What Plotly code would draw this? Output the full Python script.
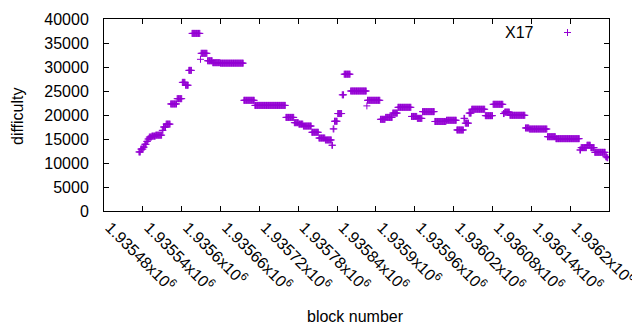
import plotly.graph_objects as go

# Run-length encoded data: consecutive blocks sharing one difficulty
run_start = [1935534, 1935537, 1935541, 1935543, 1935546, 1935548, 1935550, 1935554, 1935560, 1935570,
             1935572, 1935576, 1935583, 1935593, 1935601, 1935606, 1935611, 1935616, 1935629, 1935630,
             1935640, 1935648, 1935660, 1935696, 1935713, 1935761, 1935774, 1935781, 1935788, 1935801,
             1935812, 1935822, 1935832, 1935834, 1935836, 1935841, 1935848, 1935851, 1935861, 1935886,
             1935887, 1935907, 1935915, 1935926, 1935934, 1935955, 1935964, 1935972, 1935991, 1936009,
             1936025, 1936036, 1936038, 1936044, 1936048, 1936069, 1936081, 1936097, 1936099, 1936107,
             1936131, 1936137, 1936165, 1936178, 1936215, 1936217, 1936226, 1936232, 1936238, 1936255,
             1936257]
run_end = [1935536, 1935540, 1935542, 1935545, 1935547, 1935549, 1935553, 1935559, 1935569, 1935571,
           1935575, 1935582, 1935592, 1935600, 1935605, 1935610, 1935615, 1935628, 1935629, 1935639,
           1935647, 1935659, 1935695, 1935712, 1935760, 1935773, 1935780, 1935787, 1935800, 1935811,
           1935821, 1935831, 1935833, 1935835, 1935840, 1935847, 1935850, 1935860, 1935885, 1935886,
           1935906, 1935914, 1935925, 1935933, 1935954, 1935963, 1935971, 1935990, 1936008, 1936024,
           1936035, 1936037, 1936043, 1936047, 1936068, 1936080, 1936096, 1936098, 1936106, 1936130,
           1936136, 1936164, 1936177, 1936214, 1936216, 1936225, 1936231, 1936237, 1936254, 1936256,
           1936258]
run_diff = [12300, 12900, 13300, 13900, 14500, 15000, 15400, 15600, 15800, 16800,
            17500, 18100, 22300, 23400, 26800, 26200, 29300, 37000, 31600, 32850,
            31300, 30900, 30800, 23060, 22000, 19500, 18400, 18100, 17700, 16400,
            15200, 14800, 13700, 17100, 18700, 20300, 24200, 28500, 25000, 21900,
            23060, 19100, 19500, 20400, 21600, 19700, 19300, 20700, 18650, 18900,
            16880, 19300, 18300, 20400, 21200, 19860, 22230, 20300, 20600, 19940,
            17300, 17080, 15480, 15070, 12710, 13200, 13700, 13200, 12220, 11300,
            11100]

x_tickvals = [1935480, 1935540, 1935600, 1935660, 1935720, 1935780, 1935840,
              1935900, 1935960, 1936020, 1936080, 1936140, 1936200, 1936260]
x_ticktext = ["1.93548", "1.93554", "1.9356", "1.93566", "1.93572", "1.93578", "1.93584",
              "1.9359", "1.93596", "1.93602", "1.93608", "1.93614", "1.9362", "1.93626"]
y_tickvals = [0, 5000, 10000, 15000, 20000, 25000, 30000, 35000, 40000]
series_name = "X17"

blocks, diffs = [], []
for s, e, d in zip(run_start, run_end, run_diff):
    for b in range(s, e + 1):
        blocks.append(b)
        diffs.append(d)

COLOR = "#9400D3"
FONT = "Liberation Sans, Arial, sans-serif"

# the page body has an 8px margin, so the figure is drawn at (8, 8) in the window
OFF = 8
W, H = 640 - OFF, 330 - OFF
L, T = 104 - OFF, 19 - OFF
R = W - (609 - OFF)
B = H - (211 - OFF)
pw, ph = W - L - R, H - T - B

def px2paper(px, py):
    # px, py given in window pixels
    return (px - OFF - L) / pw, (H - B - (py - OFF)) / ph

fig = go.Figure()
fig.add_trace(go.Scatter(
    x=blocks, y=diffs, mode="markers", name=series_name, showlegend=False,
    marker=dict(symbol="cross-thin", size=5, line=dict(color=COLOR, width=1), color=COLOR),
))

axis_common = dict(showline=True, linecolor="black", linewidth=1, mirror="allticks",
                   ticks="inside", ticklen=5, tickcolor="black", showgrid=False, zeroline=False,
                   tickfont=dict(family=FONT, size=16, color="black"))

fig.update_layout(
    width=W, height=H, margin=dict(l=L, r=R, t=T, b=B, autoexpand=False),
    paper_bgcolor="white", plot_bgcolor="white",
    font=dict(family=FONT, size=16, color="black"),
    xaxis=dict(range=[x_tickvals[0], x_tickvals[-1]], tickvals=x_tickvals,
               ticktext=[t + "x10<sup>6</sup>" for t in x_ticktext], tickangle=45,
               ticklabelshift=6, automargin=False, **axis_common),
    yaxis=dict(range=[y_tickvals[0], y_tickvals[-1]], tickvals=y_tickvals,
               ticktext=[str(v) for v in y_tickvals], automargin=False,
               ticklabelstandoff=11, **axis_common),
)

# axis titles
bx, by = px2paper(355, 316)
fig.add_annotation(text="block number", xref="paper", yref="paper", x=bx, y=by,
                   showarrow=False, xanchor="center", yanchor="middle",
                   font=dict(family=FONT, size=16, color="black"))
dx, dy = px2paper(18, 116)
fig.add_annotation(text="difficulty", xref="paper", yref="paper", x=dx, y=dy, textangle=-90,
                   showarrow=False, xanchor="center", yanchor="middle",
                   font=dict(family=FONT, size=16, color="black"))

# key (gnuplot style: text then sample)
kx, ky = px2paper(519, 32)
fig.add_annotation(text=series_name, xref="paper", yref="paper", x=kx, y=ky,
                   showarrow=False, xanchor="center", yanchor="middle",
                   font=dict(family=FONT, size=16, color="black"))
cx, cy = 567.5, 32.5
for (x0, y0, x1, y1) in [(cx - 3.5, cy, cx + 3.5, cy), (cx, cy - 3.5, cx, cy + 3.5)]:
    p0 = px2paper(x0, y0)
    p1 = px2paper(x1, y1)
    fig.add_shape(type="line", xref="paper", yref="paper", x0=p0[0], y0=p0[1], x1=p1[0], y1=p1[1],
                  line=dict(color=COLOR, width=1))

fig.write_html("out.html")
